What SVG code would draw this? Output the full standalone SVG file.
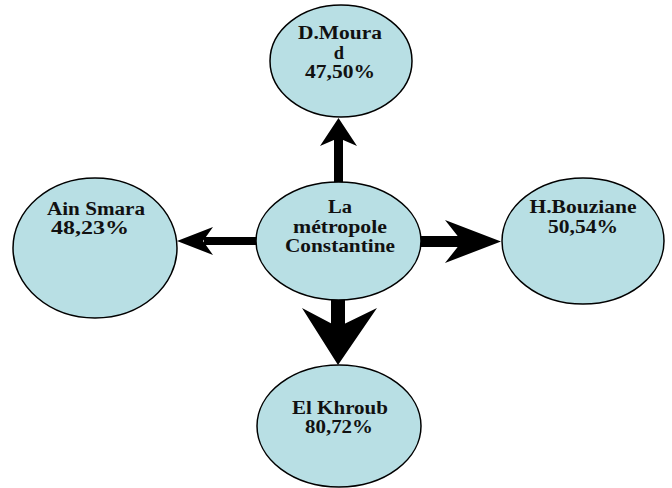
<svg xmlns="http://www.w3.org/2000/svg" width="672" height="488" viewBox="0 0 672 488">
<style>
.node ellipse{fill:#b8dfe4;stroke:#000;stroke-width:1.5}
.node text{font-family:"Liberation Serif","Times New Roman",serif;font-weight:bold;font-size:18.5px;fill:#111;text-anchor:middle}
.shaft{stroke:#000;fill:none}
.head{fill:#000}
</style>
<rect width="672" height="488" fill="#fff"/>
<g id="connectors">
<line class="shaft" x1="338.5" y1="184" x2="338.5" y2="138" stroke-width="9"/>
<polygon class="head" points="338.5,118 357,146 338.5,138 320,146"/>
<line class="shaft" x1="258" y1="241" x2="204" y2="241" stroke-width="8"/>
<polygon class="head" points="177,241 213,227 203,241 213,255"/>
<line class="shaft" x1="420" y1="241.5" x2="463" y2="241.5" stroke-width="11"/>
<polygon class="head" points="501,241.5 445,220 462,241.5 445,263"/>
<line class="shaft" x1="338" y1="298" x2="338" y2="330" stroke-width="14"/>
<polygon class="head" points="338,365 377,308 338,327 302,308"/>
</g>
<g id="n-center" class="node">
<ellipse cx="338.5" cy="241" rx="82.5" ry="59"/>
<text x="340" y="213" textLength="24" lengthAdjust="spacingAndGlyphs">La</text>
<text x="340" y="233" textLength="94" lengthAdjust="spacingAndGlyphs">métropole</text>
<text x="340" y="252" textLength="110" lengthAdjust="spacingAndGlyphs">Constantine</text>
</g>
<g id="n-dmourad" class="node">
<ellipse cx="341" cy="61" rx="71" ry="56"/>
<text x="340" y="39" textLength="84" lengthAdjust="spacingAndGlyphs">D.Moura</text>
<text x="339" y="59">d</text>
<text x="340" y="78" textLength="70" lengthAdjust="spacingAndGlyphs">47,50%</text>
</g>
<g id="n-ainsmara" class="node">
<ellipse cx="95" cy="248" rx="82" ry="70"/>
<text x="96" y="215" textLength="98" lengthAdjust="spacingAndGlyphs">Ain Smara</text>
<text x="90" y="234" textLength="78" lengthAdjust="spacingAndGlyphs">48,23%</text>
</g>
<g id="n-hbouziane" class="node">
<ellipse cx="583" cy="241" rx="81" ry="63"/>
<text x="583" y="213" textLength="107" lengthAdjust="spacingAndGlyphs">H.Bouziane</text>
<text x="583" y="233" textLength="70" lengthAdjust="spacingAndGlyphs">50,54%</text>
</g>
<g id="n-elkhroub" class="node">
<ellipse cx="339" cy="426" rx="82" ry="61"/>
<text x="340" y="414" textLength="96" lengthAdjust="spacingAndGlyphs">El Khroub</text>
<text x="339" y="433" textLength="68" lengthAdjust="spacingAndGlyphs">80,72%</text>
</g>
</svg>
